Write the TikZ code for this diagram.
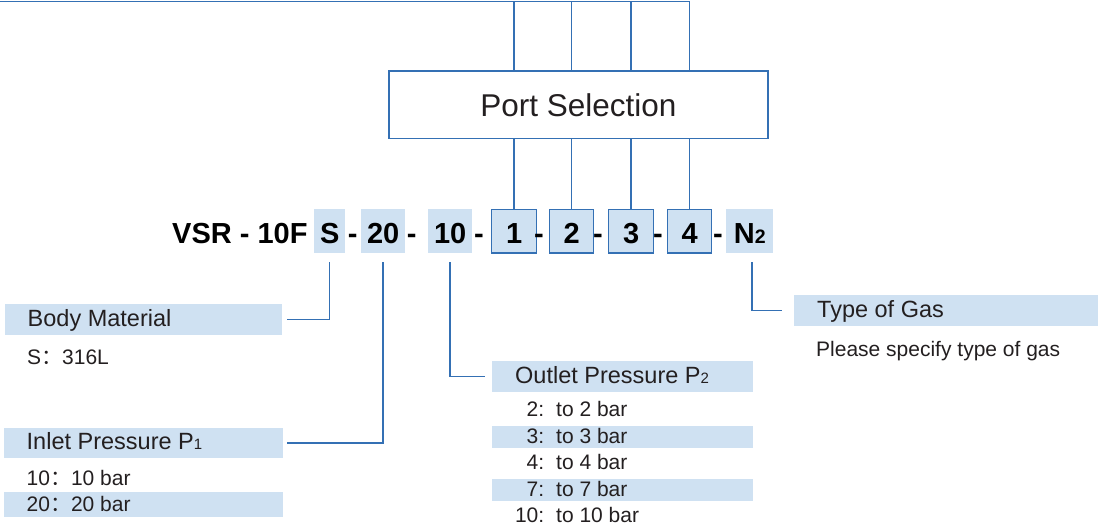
\documentclass[tikz,border=0pt]{standalone}
\usepackage{fontspec}
\setmainfont{Liberation Sans}
\newfontfamily\cjk{Noto Sans CJK SC}
\definecolor{band}{RGB}{207,225,242}
\definecolor{lineblue}{RGB}{52,112,180}
\definecolor{ink}{RGB}{35,31,32}
\newcommand\bandtext[2]{\makebox[#1][l]{\hspace*{23pt}#2}}
\newcommand\rowtext[2]{\makebox[261pt][l]{\hspace*{23pt}\makebox[29pt][r]{#1}\hspace{12pt}#2}}
\begin{document}
\begin{tikzpicture}[x=1pt,y=-1pt,
  every node/.style={text=ink},
  conn/.style={draw=lineblue, line width=1.5pt},
  codebox/.style={fill=band, inner sep=0pt, text height=34pt, text depth=9.5pt,
    font=\fontsize{29}{29}\selectfont\bfseries, anchor=north west, text=black},
  selbox/.style={codebox, draw=lineblue, line width=1.4pt},
  codetxt/.style={inner sep=0pt, anchor=base, font=\fontsize{29}{29}\selectfont\bfseries, text=black},
  hdr/.style={fill=band, inner sep=0pt, text height=22pt, text depth=8.5pt,
    anchor=north west, font=\fontsize{23.5}{23.5}\selectfont},
  outrow/.style={inner sep=0pt, text height=17.5pt, text depth=5pt,
    anchor=base west, font=\fontsize{21}{21}\selectfont},
  inrow/.style={inner sep=0pt, text height=19.5pt, text depth=5pt,
    anchor=base west, font=\fontsize{21}{21}\selectfont},
  plain/.style={inner sep=0pt, anchor=base west, font=\fontsize{21}{21}\selectfont},
  portbox/.style={draw=lineblue, line width=1.7pt, minimum width=379pt, minimum height=67.7pt,
    inner sep=0pt, font=\fontsize{31.5}{31.5}\selectfont}
]
\useasboundingbox (0,0) rectangle (1098,529);

% Port selection box
\node[portbox] (ps) at (578.5,104.8) {Port Selection};

% code row
\node[codetxt, anchor=base west] (vsr) at (172,243.3) {VSR - 10F};
\node[codebox, minimum width=31pt] (bS) at (314,209) {S};
\node[codetxt] (d1) at (352.7,243.3) {-};
\node[codebox, minimum width=44pt] (b20) at (361,209) {20};
\node[codetxt] (d2) at (411.7,243.3) {-};
\node[codebox, minimum width=44pt] (b10) at (428,209) {10};
\node[codetxt] (d3) at (479,243.3) {-};
\node[selbox, minimum width=45pt] (b1) at (491,209) {1};
\node[codetxt] (d4) at (539,243.3) {-};
\node[selbox, minimum width=44pt] (b2) at (549,209) {2};
\node[codetxt] (d5) at (598,243.3) {-};
\node[selbox, minimum width=45pt] (b3) at (608,209) {3};
\node[codetxt] (d6) at (658,243.3) {-};
\node[selbox, minimum width=44pt] (b4) at (667,209) {4};
\node[codetxt] (d7) at (718,243.3) {-};
\node[codebox, minimum width=47pt] (bN) at (726,209) {N{\fontsize{19.5}{19.5}\selectfont 2}};

% headers
\node[hdr] (bm) at (4.5,304) {\bandtext{277.5pt}{Body Material}};
\node[hdr] (inlet) at (3.5,427.7) {\bandtext{279pt}{Inlet Pressure P{\fontsize{15}{15}\selectfont 1}}};
\node[hdr] (outlet) at (492,361) {\bandtext{261pt}{Outlet Pressure P{\fontsize{15}{15}\selectfont 2}}};
\node[hdr] (gas) at (794,295) {\bandtext{304pt}{Type of Gas}};

% details
\node[plain] (s316) at (27,364) {S{\cjk ：}316L};
\node[plain] (spec) at (816,356.7) {Please specify type of gas};

\node[inrow] (i10) at (3.5,485) {\bandtext{279pt}{10{\cjk ：}10 bar}};
\node[inrow, fill=band] (i20) at (3.5,511.7) {\bandtext{279pt}{20{\cjk ：}20 bar}};

\node[outrow] (o2) at (492,416.7) {\rowtext{2:}{to 2 bar}};
\node[outrow, fill=band] (o3) at (492,443.2) {\rowtext{3:}{to 3 bar}};
\node[outrow] (o4) at (492,469.7) {\rowtext{4:}{to 4 bar}};
\node[outrow, fill=band] (o7) at (492,496.2) {\rowtext{7:}{to 7 bar}};
\node[outrow] (o10) at (492,522.7) {\rowtext{10:}{to 10 bar}};

% connectors
\coordinate (tl) at (0,1.3);
\draw[conn] (tl) -| (b4.north |- ps.north);
\foreach \b in {b1,b2,b3} \draw[conn] (\b.north |- tl) -- (\b.north |- ps.north);
\foreach \b in {b1,b2,b3,b4} \draw[conn] (\b.north |- ps.south) -- (\b.north);

\draw[conn] ([yshift=-9.5pt]bS.south) |- ([xshift=5pt]bm.east);
\draw[conn] ([yshift=-9.5pt]b20.south) |- ([xshift=4pt]inlet.east);
\draw[conn] ([yshift=-9.5pt]b10.south) |- ([xshift=-7pt]outlet.west);
\draw[conn] ([xshift=2.5pt,yshift=-9.5pt]bN.south) |- ([xshift=-12pt]gas.west);
\end{tikzpicture}
\end{document}
